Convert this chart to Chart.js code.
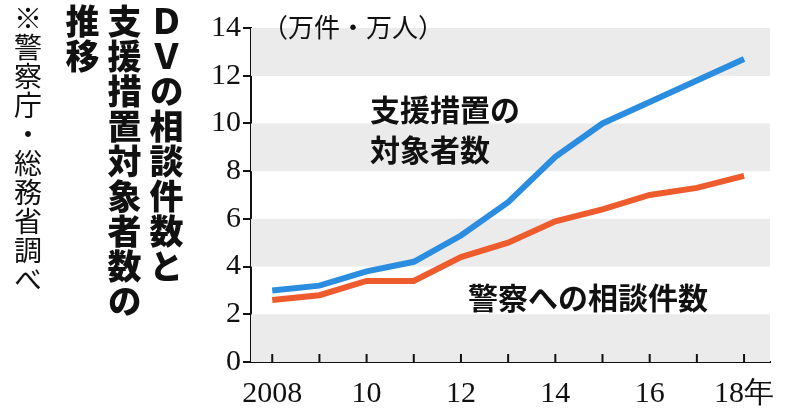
<!DOCTYPE html>
<html><head><meta charset="utf-8">
<script src="https://cdn.jsdelivr.net/npm/chart.js@4"></script>
<style>
body{margin:0;background:#fff;font-family:"Noto Sans CJK JP";}
#wrap{position:relative;width:800px;height:420px;}
.v{position:absolute;top:4px;writing-mode:vertical-rl;font-weight:900;font-size:34px;line-height:40px;letter-spacing:1px;color:#111;}
.lbl{position:absolute;font-weight:700;font-size:30px;color:#111;line-height:40px;}
</style></head><body>
<div id="wrap">
<canvas id="c" width="800" height="420"></canvas>
<div class="v" style="left:8px;font-weight:400;font-size:28px;">※警察庁・総務省調べ</div>
<div class="v" style="left:146px;">ＤＶの相談件数と</div>
<div class="v" style="left:104px;">支援措置対象者数の</div>
<div class="v" style="left:62px;">推移</div>
<div class="lbl" style="left:262px;top:6px;font-weight:400;font-size:26px;">（万件・万人）</div>
<div class="lbl" style="left:370px;top:88px;">支援措置の<br>対象者数</div>
<div class="lbl" style="left:468px;top:276px;">警察への相談件数</div>
</div>
<script>
var years = [2008, 2009, 2010, 2011, 2012, 2013, 2014, 2015, 2016, 2017, 2018];
var supportData = [3.0, 3.2, 3.8, 4.2, 5.3, 6.7, 8.6, 10.0, 10.9, 11.8, 12.7];
var policeData = [2.6, 2.8, 3.4, 3.4, 4.4, 5.0, 5.9, 6.4, 7.0, 7.3, 7.8];
var yTicks = [0, 2, 4, 6, 8, 10, 12, 14];

var bands = {
  id: 'bands',
  beforeDatasetsDraw: function(chart) {
    var ctx = chart.ctx, y = chart.scales.y, x = chart.scales.x, a = chart.chartArea;
    ctx.save();
    ctx.fillStyle = '#ebebeb';
    for (var v = 0; v < 14; v += 4) {
      ctx.fillRect(a.left, y.getPixelForValue(v + 2), a.right - a.left, y.getPixelForValue(v) - y.getPixelForValue(v + 2));
    }
    ctx.fillRect(a.left, y.getPixelForValue(14), a.right - a.left, y.getPixelForValue(12) - y.getPixelForValue(14));
    // x tick marks pointing up into the plot
    ctx.strokeStyle = '#111';
    ctx.lineWidth = 2;
    years.forEach(function(yr) {
      var px = x.getPixelForValue(yr);
      ctx.beginPath(); ctx.moveTo(px, a.bottom); ctx.lineTo(px, a.bottom - 8); ctx.stroke();
    });
    ctx.restore();
  }
};

new Chart(document.getElementById('c'), {
  type: 'line',
  data: {
    labels: years,
    datasets: [
      {data: supportData, borderColor: '#2b8de0', borderWidth: 6, pointRadius: 0, tension: 0},
      {data: policeData, borderColor: '#ee5b2c', borderWidth: 6, pointRadius: 0, tension: 0}
    ]
  },
  plugins: [bands],
  options: {
    responsive: false, animation: false,
    layout: {padding: {left: 195, right: 30, top: 28, bottom: 0}},
    plugins: {legend: {display: false}, tooltip: {enabled: false}},
    scales: {
      x: {
        type: 'linear', min: 2007.55, max: 2018.55,
        afterFit: function(s) { s.height = 58; },
        afterBuildTicks: function(s) { s.ticks = years.map(function(v) { return {value: v}; }); },
        grid: {display: false},
        border: {color: '#111', width: 2},
        ticks: {
          color: '#111', font: {family: 'Liberation Sans Narrow', size: 30}, maxRotation: 0, autoSkip: false, padding: 6,
          callback: function(v) { if (v === 2008) return '2008'; if (v === 2018) return '18年'; return v % 2 === 0 ? String(v - 2000) : ''; }
        }
      },
      y: {
        min: 0, max: 14,
        afterFit: function(s) { s.width = 56; },
        afterBuildTicks: function(s) { s.ticks = yTicks.map(function(v) { return {value: v}; }); },
        grid: {display: true, drawOnChartArea: false, color: '#111', tickLength: 8, lineWidth: 2},
        border: {color: '#111', width: 2},
        ticks: {color: '#111', font: {family: 'Liberation Sans Narrow', size: 30}, padding: 2}
      }
    }
  }
});
</script>
</body></html>
